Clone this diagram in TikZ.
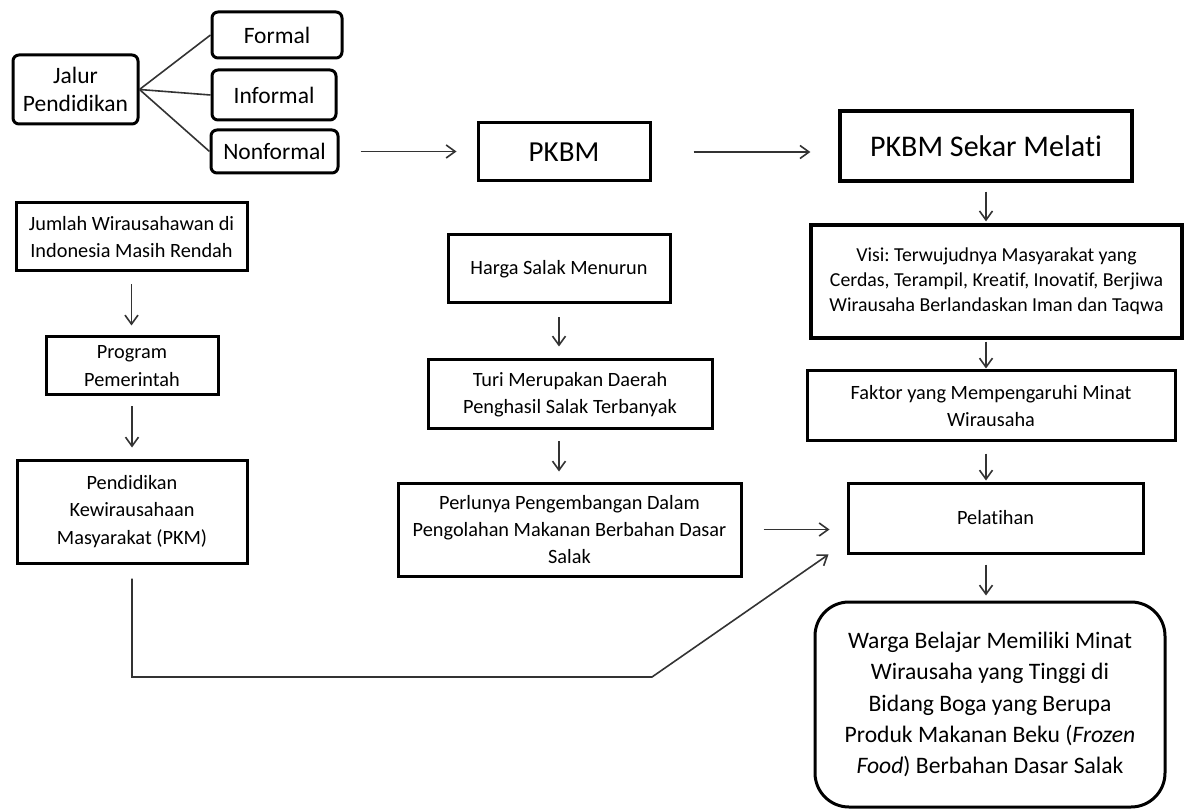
\documentclass[tikz,border=0pt]{standalone}
\usepackage{fontspec}
\setmainfont{Carlito}[Ligatures=NoCommon]
\usetikzlibrary{arrows.meta}

\begin{document}
\frenchspacing
\begin{tikzpicture}[x=1pt, y=-1pt,
    box/.style={draw, line width=3pt, align=center, inner sep=0pt},
    rbox/.style={box, rounded corners=6pt},
    txt/.style={font=\fontsize{20.3}{27.5}\selectfont},
    big/.style={font=\fontsize{23.5}{28}\selectfont},
    link/.style={line width=1.6pt, black!80},
    arr/.style={link, -{Straight Barb[length=9pt,width=13pt]}}]

    \useasboundingbox (0,0) rectangle (1187,810);

    \node[rbox, big, minimum width=125pt, minimum height=69pt] (jalur) at (75.5,89.5) {Jalur\\Pendidikan};
    \node[rbox, big, minimum width=130pt, minimum height=46pt] (formal) at (277,35) {Formal};
    \node[rbox, big, minimum width=124pt, minimum height=50pt] (informal) at (274,95) {Informal};
    \node[rbox, big, minimum width=127pt, minimum height=43pt] (nonformal) at (274.5,151.5) {Nonformal};

    \node[box, font=\fontsize{29}{34}\selectfont, minimum width=172pt, minimum height=58pt] (pkbm) at (564,152) {PKBM};
    \node[box, line width=3.3pt, font=\fontsize{30}{36}\selectfont, minimum width=292pt, minimum height=70pt] (sekar) at (986,146) {PKBM Sekar Melati};

    \node[box, txt, minimum width=231pt, minimum height=68pt] (jumlah) at (131.5,237) {Jumlah Wirausahawan di\\Indonesia Masih Rendah};
    \node[box, txt, minimum width=172pt, minimum height=58pt] (program) at (132,366) {Program\\Pemerintah};
    \node[box, txt, minimum width=230pt, minimum height=103pt] (pkm) at (132,511.5) {Pendidikan\\Kewirausahaan\\Masyarakat (PKM)};

    \node[box, txt, minimum width=222pt, minimum height=68pt] (harga) at (559,269) {Harga Salak Menurun};
    \node[box, txt, font=\fontsize{20.3}{26.7}\selectfont, minimum width=284pt, minimum height=69pt] (turi) at (570,394.5) {Turi Merupakan Daerah\\Penghasil Salak Terbanyak};
    \node[box, txt, font=\fontsize{20.3}{26.7}\selectfont, minimum width=343pt, minimum height=93pt] (perlunya) at (569.5,529.5) {Perlunya Pengembangan Dalam\\Pengolahan Makanan Berbahan Dasar\\Salak};

    \node[box, line width=3.3pt, font=\fontsize{19.8}{25}\selectfont, minimum width=371pt, minimum height=113pt] (visi) at (996.5,281.5) {Visi: Terwujudnya Masyarakat yang\\Cerdas, Terampil, Kreatif, Inovatif, Berjiwa\\Wirausaha Berlandaskan Iman dan Taqwa};
    \node[box, txt, minimum width=368pt, minimum height=70pt] (faktor) at (991,406) {Faktor yang Mempengaruhi Minat\\Wirausaha};
    \node[box, txt, minimum width=295pt, minimum height=70pt] (pelatihan) at (995.5,518) {Pelatihan};
    \node[box, rounded corners=34pt, font=\fontsize{23.6}{31.3}\selectfont, minimum width=350pt, minimum height=205pt] (warga) at (990,704.5) {Warga Belajar Memiliki Minat\\Wirausaha yang Tinggi di\\Bidang Boga yang Berupa\\Produk Makanan Beku (\textit{Frozen}\\\textit{Food}) Berbahan Dasar Salak};

    \draw[link] (jalur.east) -- (formal.west);
    \draw[link] (jalur.east) -- (informal.west);
    \draw[link] (jalur.east) -- (nonformal.west);

    \draw[arr, shorten <=21pt, shorten >=20pt] (nonformal.east) -- (nonformal.east -| pkbm.west);
    \draw[arr, shorten <=42pt, shorten >=28pt] (pkbm.east) -- (pkbm.east -| sekar.west);

    \draw[arr, shorten <=12pt, shorten >=10pt] (jumlah.south) -- (jumlah.south |- program.north);
    \draw[arr, shorten <=10pt, shorten >=11pt] (program.south) -- (program.south |- pkm.north);

    \draw[arr, shorten <=13pt, shorten >=12pt] (harga.south) -- (harga.south |- turi.north);
    \draw[arr, shorten <=11pt, shorten >=10pt] (harga.south |- turi.south) -- (harga.south |- perlunya.north);

    \draw[arr, shorten <=9pt, shorten >=2pt] (sekar.south) -- (sekar.south |- visi.north);
    \draw[arr, shorten <=2pt, shorten >=1pt] (sekar.south |- visi.south) -- (sekar.south |- faktor.north);
    \draw[arr, shorten <=11pt, shorten >=1pt] (sekar.south |- faktor.south) -- (sekar.south |- pelatihan.north);
    \draw[arr, shorten <=10pt, shorten >=5pt] (sekar.south |- pelatihan.south) -- (sekar.south |- warga.north);

    \draw[arr, shorten <=21pt, shorten >=17pt] (perlunya.east) -- (perlunya.east -| pelatihan.west);
    \coordinate (bend) at (652,677);
    \draw[arr, shorten <=14pt] (pkm.south) |- (bend) -- ([xshift=-18pt]pelatihan.south west);

\end{tikzpicture}
\end{document}
